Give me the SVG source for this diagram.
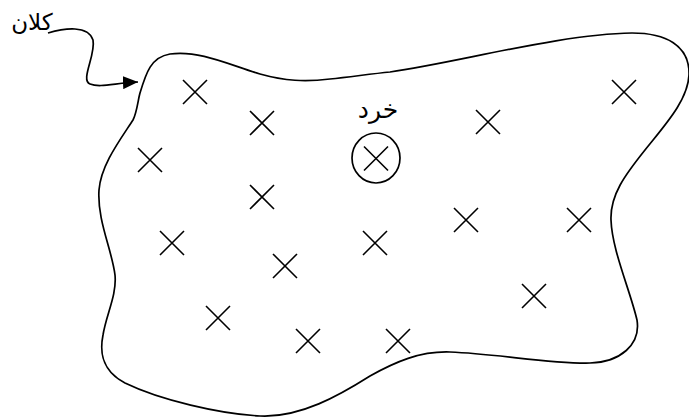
<svg xmlns="http://www.w3.org/2000/svg" width="689" height="417" viewBox="0 0 689 417">
<style>
.x{stroke:#000;stroke-width:1.6;fill:none}
.ln{stroke:#000;stroke-width:1.7;fill:none}
.t{font-family:"DejaVu Sans",sans-serif;fill:#000;text-anchor:middle}
</style>
<defs>
<marker id="ah" markerUnits="userSpaceOnUse" markerWidth="15" markerHeight="13" viewBox="0 0 15 13" refX="15" refY="6.5" orient="auto">
<path d="M0,0 L15,6.5 L0,13 z" fill="#000"/>
</marker>
<path id="xm" d="M-12,-12 L12,12 M12,-12 L-12,12"/>
</defs>
<g id="region">
<path class="ln" d="M140,93 C146,73 151,57 170,54 C200,50 230,65 260,74 C285,81 305,82 330,79 C350,77 370,74 390,72 C460,62 560,34 632,33 C665,33 690,45 689,75 C688,100 665,125 645,150 C625,175 610,195 611,220 C612,250 630,290 637,320 C641,345 620,362 590,363 C550,364 500,354 450,352 C420,351 395,362 370,376 C340,395 300,418 260,416 C220,414 160,400 125,383 C100,370 100,350 103,335 C106,315 117,295 115,275 C112,250 97,220 99,190 C101,165 120,140 133,120 C137,112 138,100 140,93 Z"/>
</g>
<g id="points" class="x">
<use href="#xm" x="195" y="92"/>
<use href="#xm" x="262" y="123"/>
<use href="#xm" x="150" y="160"/>
<use href="#xm" x="262" y="197"/>
<use href="#xm" x="172" y="243"/>
<use href="#xm" x="285" y="266"/>
<use href="#xm" x="375" y="243"/>
<use href="#xm" x="466" y="220"/>
<use href="#xm" x="579" y="220"/>
<use href="#xm" x="488" y="122"/>
<use href="#xm" x="624" y="92"/>
<use href="#xm" x="534" y="296"/>
<use href="#xm" x="218" y="318"/>
<use href="#xm" x="308" y="341"/>
<use href="#xm" x="398" y="341"/>
</g>
<g id="micro">
<ellipse class="ln" cx="376" cy="158" rx="24" ry="25"/>
<use class="x" href="#xm" x="376" y="158.5"/>
<text class="t" x="378" y="118" font-size="25">خرد</text>
</g>
<g id="macro-label">
<text class="t" x="32" y="30" font-size="23">کلان</text>
</g>
<g id="connectors">
<path class="ln" d="M48,33 C65,28 88,25 93,40 C96,55 80,80 90,84 C100,88 115,83 138,82" marker-end="url(#ah)"/>
</g>
</svg>
